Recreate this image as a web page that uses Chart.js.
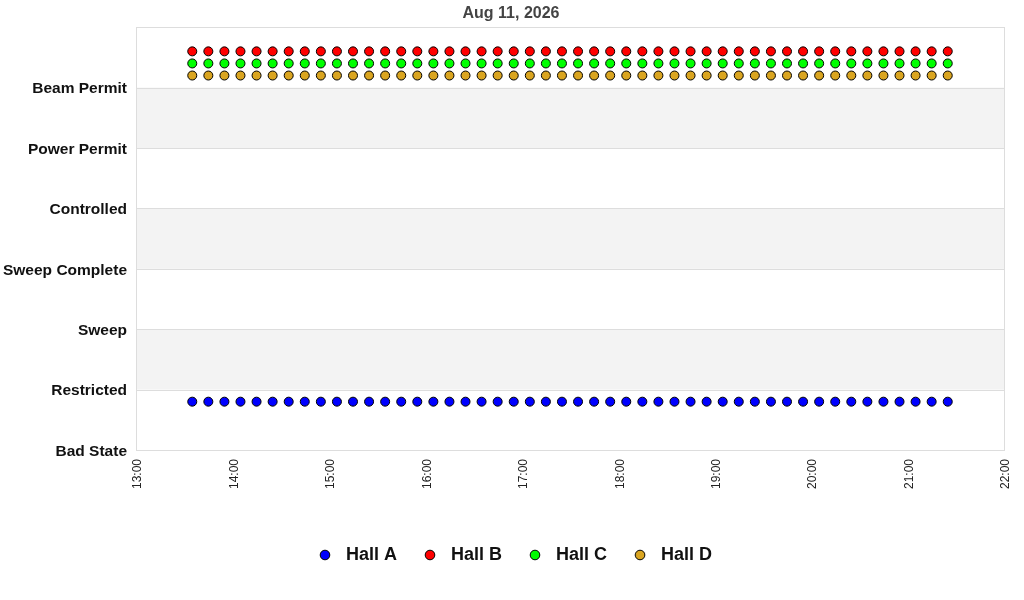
<!DOCTYPE html>
<html>
<head>
<meta charset="utf-8">
<title>Hall states</title>
<script src="https://cdn.jsdelivr.net/npm/chart.js@4.4.1/dist/chart.umd.min.js"></script>
<style>
    html, body { margin: 0; padding: 0; background: #fff; }
    #wrap { width: 1024px; height: 600px; }
</style>
</head>
<body>
<div id="wrap"><canvas id="mychart" width="1024" height="600"></canvas></div>
<script>
var chartTitle = 'Aug 11, 2026';

// y axis categories, bottom to top
var stateLabels = ['Bad State', 'Restricted', 'Sweep', 'Sweep Complete', 'Controlled', 'Power Permit', 'Beam Permit'];

// x axis ticks (hours)
var hourTicks = ['13:00', '14:00', '15:00', '16:00', '17:00', '18:00', '19:00', '20:00', '21:00', '22:00'];

var sampleTimes = [
    '13:35', '13:45', '13:55',
    '14:05', '14:15', '14:25', '14:35', '14:45', '14:55',
    '15:05', '15:15', '15:25', '15:35', '15:45', '15:55',
    '16:05', '16:15', '16:25', '16:35', '16:45', '16:55',
    '17:05', '17:15', '17:25', '17:35', '17:45', '17:55',
    '18:05', '18:15', '18:25', '18:35', '18:45', '18:55',
    '19:05', '19:15', '19:25', '19:35', '19:45', '19:55',
    '20:05', '20:15', '20:25', '20:35', '20:45', '20:55',
    '21:05', '21:15', '21:25'
];

var hallA = [0.8, 0.8, 0.8, 0.8, 0.8, 0.8, 0.8, 0.8, 0.8, 0.8, 0.8, 0.8, 0.8, 0.8, 0.8, 0.8,
             0.8, 0.8, 0.8, 0.8, 0.8, 0.8, 0.8, 0.8, 0.8, 0.8, 0.8, 0.8, 0.8, 0.8, 0.8, 0.8,
             0.8, 0.8, 0.8, 0.8, 0.8, 0.8, 0.8, 0.8, 0.8, 0.8, 0.8, 0.8, 0.8, 0.8, 0.8, 0.8];
var hallB = [6.6, 6.6, 6.6, 6.6, 6.6, 6.6, 6.6, 6.6, 6.6, 6.6, 6.6, 6.6, 6.6, 6.6, 6.6, 6.6,
             6.6, 6.6, 6.6, 6.6, 6.6, 6.6, 6.6, 6.6, 6.6, 6.6, 6.6, 6.6, 6.6, 6.6, 6.6, 6.6,
             6.6, 6.6, 6.6, 6.6, 6.6, 6.6, 6.6, 6.6, 6.6, 6.6, 6.6, 6.6, 6.6, 6.6, 6.6, 6.6];
var hallC = [6.4, 6.4, 6.4, 6.4, 6.4, 6.4, 6.4, 6.4, 6.4, 6.4, 6.4, 6.4, 6.4, 6.4, 6.4, 6.4,
             6.4, 6.4, 6.4, 6.4, 6.4, 6.4, 6.4, 6.4, 6.4, 6.4, 6.4, 6.4, 6.4, 6.4, 6.4, 6.4,
             6.4, 6.4, 6.4, 6.4, 6.4, 6.4, 6.4, 6.4, 6.4, 6.4, 6.4, 6.4, 6.4, 6.4, 6.4, 6.4];
var hallD = [6.2, 6.2, 6.2, 6.2, 6.2, 6.2, 6.2, 6.2, 6.2, 6.2, 6.2, 6.2, 6.2, 6.2, 6.2, 6.2,
             6.2, 6.2, 6.2, 6.2, 6.2, 6.2, 6.2, 6.2, 6.2, 6.2, 6.2, 6.2, 6.2, 6.2, 6.2, 6.2,
             6.2, 6.2, 6.2, 6.2, 6.2, 6.2, 6.2, 6.2, 6.2, 6.2, 6.2, 6.2, 6.2, 6.2, 6.2, 6.2];

var hallColors = ['#0000ff', '#ff0000', '#00ff00', '#daa520'];

// "HH:MM" -> minutes since midnight
function toMinutes(t) {
    var p = t.split(':');
    return parseInt(p[0], 10) * 60 + parseInt(p[1], 10);
}

function pad2(n) { return (n < 10 ? '0' : '') + n; }

function points(values) {
    var out = [];
    for (var i = 0; i < sampleTimes.length; i++) {
        out.push({ x: toMinutes(sampleTimes[i]), y: values[i] });
    }
    return out;
}

function series(label, values, color) {
    return {
        label: label,
        data: points(values),
        showLine: false,
        backgroundColor: color,
        borderColor: '#000',
        pointBackgroundColor: color,
        pointBorderColor: '#000',
        pointBorderWidth: 1,
        borderWidth: 1,
        pointRadius: 4.5,
        pointHoverRadius: 4.5
    };
}

// small dot images for the legend (so the gap to the text can be set)
function legendDot(color) {
    var c = document.createElement('canvas');
    c.width = 12;
    c.height = 12;
    var g = c.getContext('2d');
    g.beginPath();
    g.arc(6, 6, 4.8, 0, Math.PI * 2);
    g.fillStyle = color;
    g.fill();
    g.lineWidth = 1;
    g.strokeStyle = '#000';
    g.stroke();
    return c;
}
var legendDots = hallColors.map(legendDot);

// alternating grey bands + light frame round the plot
var bandPlugin = {
    id: 'bands',
    afterLayout: function (chart) {
        // centre title and legend a little right of the layout box
        if (chart.titleBlock) { chart.titleBlock.left = 18; chart.titleBlock.right = 1004; }
        if (chart.legend) { chart.legend.left = 18; chart.legend.right = 1007; }
    },
    beforeDatasetsDraw: function (chart) {
        var ctx = chart.ctx, y = chart.scales.y, a = chart.chartArea;
        ctx.save();
        ctx.fillStyle = '#f3f3f3';
        for (var v = 1; v < stateLabels.length; v += 2) {
            var top = y.getPixelForValue(v + 1), bot = y.getPixelForValue(v);
            ctx.fillRect(a.left, top, a.right - a.left, bot - top);
        }
        ctx.strokeStyle = '#dddddd';
        ctx.lineWidth = 1;
        for (var k = 0; k <= stateLabels.length; k++) {
            var py = Math.round(y.getPixelForValue(k)) + 0.5;
            ctx.beginPath();
            ctx.moveTo(a.left, py);
            ctx.lineTo(a.right, py);
            ctx.stroke();
        }
        ctx.strokeRect(Math.round(a.left) + 0.5, Math.round(a.top) + 0.5,
            Math.round(a.right - a.left), Math.round(a.bottom - a.top));
        ctx.restore();
    }
};

var ctr = document.getElementById('mychart');

new Chart(ctr, {
    type: 'scatter',
    data: {
        datasets: [
            series('Hall A', hallA, hallColors[0]),
            series('Hall B', hallB, hallColors[1]),
            series('Hall C', hallC, hallColors[2]),
            series('Hall D', hallD, hallColors[3])
        ]
    },
    options: {
        responsive: false,
        animation: false,
        layout: { padding: { top: 0, right: 20, bottom: 26, left: 0 } },
        scales: {
            x: {
                type: 'linear',
                min: toMinutes(hourTicks[0]),
                max: toMinutes(hourTicks[hourTicks.length - 1]),
                grid: { display: false, drawTicks: false },
                border: { display: false },
                afterBuildTicks: function (scale) {
                    scale.ticks = hourTicks.map(function (t) { return { value: toMinutes(t) }; });
                },
                afterFit: function (scale) {
                    scale.height = 75;
                    scale.paddingLeft = 0;
                    scale.paddingRight = 0;
                },
                ticks: {
                    minRotation: 90,
                    maxRotation: 90,
                    autoSkip: false,
                    padding: 9,
                    labelOffset: 2,
                    color: '#222',
                    font: { family: 'Liberation Sans, Arial, sans-serif', size: 12 },
                    callback: function (v) {
                        return pad2(Math.floor(v / 60)) + ':' + pad2(v % 60);
                    }
                }
            },
            y: {
                min: 0,
                max: stateLabels.length,
                grid: { display: false, drawTicks: false },
                border: { display: false },
                afterFit: function (scale) { scale.width = 136; },
                ticks: {
                    stepSize: 1,
                    padding: 9,
                    labelOffset: 1.5,
                    color: '#111',
                    font: { family: 'Liberation Sans, Arial, sans-serif', size: 15.5, weight: 'bold' },
                    callback: function (v) {
                        return stateLabels[v] !== undefined ? stateLabels[v] : '';
                    }
                }
            }
        },
        plugins: {
            title: {
                display: true,
                text: chartTitle,
                color: '#444',
                padding: { top: 4, bottom: 4 },
                font: { family: 'Liberation Sans, Arial, sans-serif', size: 16, weight: 'bold' }
            },
            legend: {
                position: 'bottom',
                labels: {
                    usePointStyle: true,
                    pointStyleWidth: 24,
                    boxHeight: 10,
                    padding: 21,
                    color: '#111',
                    font: { family: 'Liberation Sans, Arial, sans-serif', size: 18, weight: 'bold' },
                    generateLabels: function (chart) {
                        var items = Chart.defaults.plugins.legend.labels.generateLabels(chart);
                        items.forEach(function (it, i) { it.pointStyle = legendDots[i]; });
                        return items;
                    }
                }
            },
            tooltip: { enabled: false }
        }
    },
    plugins: [bandPlugin]
});
</script>
</body>
</html>
